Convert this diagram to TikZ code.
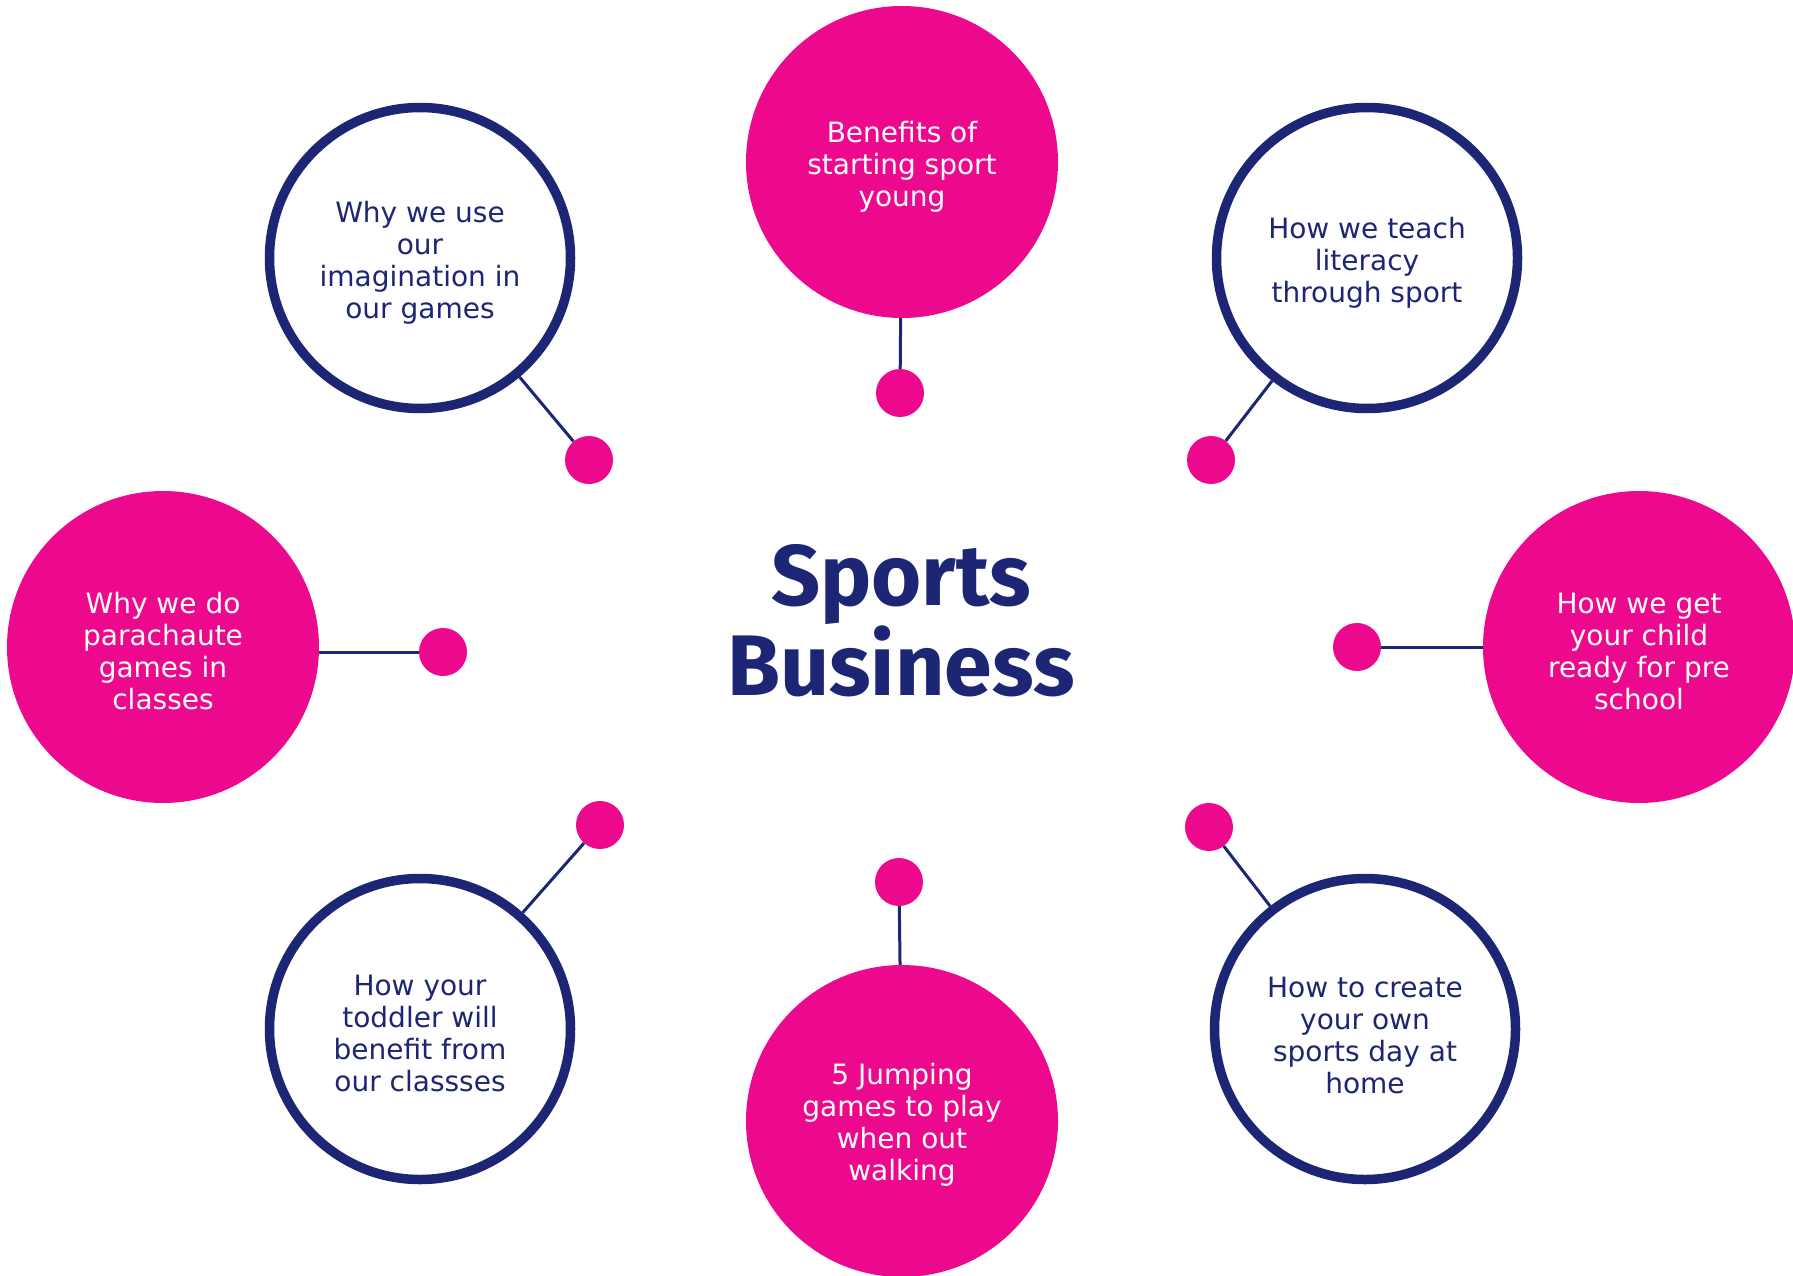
\documentclass[tikz,border=0pt]{standalone}
\usepackage{fontspec}
\setmainfont{DejaVu Sans}
\newfontfamily\titlefont{Fira Sans}
\definecolor{pinkc}{RGB}{236,9,141}
\definecolor{navyc}{RGB}{28,38,116}
\begin{document}
\begin{tikzpicture}[x=1pt,y=-1pt,
  pinkbig/.style={circle,fill=pinkc,minimum size=312pt,inner sep=0pt},
  whitebig/.style={circle,draw=navyc,fill=white,line width=9.5pt,minimum size=301pt,inner sep=0pt},
  wtxt/.style={text=white,align=center,font=\fontsize{28}{32}\selectfont,inner sep=0pt},
  ntxt/.style={text=navyc,align=center,font=\fontsize{28}{32}\selectfont,inner sep=0pt},
  dotc/.style={circle,fill=pinkc,minimum size=48pt,inner sep=0pt},
  conn/.style={draw=navyc,line width=3pt}]
\useasboundingbox (0,0) rectangle (1793,1276);
\clip (0,0) rectangle (1793,1276);
% big circles
\node[pinkbig] (top) at (902,162) {};
\node[whitebig] (tl) at (420,258) {};
\node[whitebig] (tr) at (1367,258) {};
\node[pinkbig] (lft) at (163,647) {};
\node[pinkbig] (rgt) at (1639,647) {};
\node[whitebig] (bl) at (420,1029) {};
\node[pinkbig] (bot) at (902,1121) {};
\node[whitebig] (br) at (1365,1029) {};
% texts
\node[wtxt] (toptxt) at ([yshift=-5pt]top.center) {Benefits of\\starting sport\\young};
\node[ntxt] (tltxt) at ([yshift=-5pt]tl.center) {Why we use\\our\\imagination in\\our games};
\node[ntxt] (trtxt) at ([yshift=-5pt]tr.center) {How we teach\\literacy\\through sport};
\node[wtxt] (lfttxt) at ([yshift=-4pt]lft.center) {Why we do\\parachaute\\games in\\classes};
\node[wtxt] (rgttxt) at ([yshift=-4pt]rgt.center) {How we get\\your child\\ready for pre\\school};
\node[ntxt] (bltxt) at ([yshift=-4pt]bl.center) {How your\\toddler will\\benefit from\\our classses};
\node[wtxt] (bottxt) at ([yshift=-4pt]bot.center) {5 Jumping\\games to play\\when out\\walking};
\node[ntxt] (brtxt) at ([yshift=-6pt]br.center) {How to create\\your own\\sports day at\\home};
% dots
\node[dotc] (dtop) at (900,393) {};
\node[dotc] (dtl) at (589,460) {};
\node[dotc] (dtr) at (1211,460) {};
\node[dotc] (dlft) at (443,652) {};
\node[dotc] (drgt) at (1357,647) {};
\node[dotc] (dbl) at (600,825) {};
\node[dotc] (dbot) at (899,882) {};
\node[dotc] (dbr) at (1209,827) {};
% connectors
\draw[conn] (top) -- (dtop);
\draw[conn] (tl) -- (dtl);
\draw[conn] (tr) -- (dtr);
\draw[conn] (lft.east |- dlft) -- (dlft);
\draw[conn] (rgt.west |- drgt) -- (drgt);
\draw[conn] (bl) -- (dbl);
\draw[conn] (bot) -- (dbot);
\draw[conn] (br) -- (dbr);
% title
\node[text=navyc,align=center,font=\titlefont\bfseries\fontsize{86}{84}\selectfont] (title) at (901,621) {Sports\\Business};
\end{tikzpicture}
\end{document}
